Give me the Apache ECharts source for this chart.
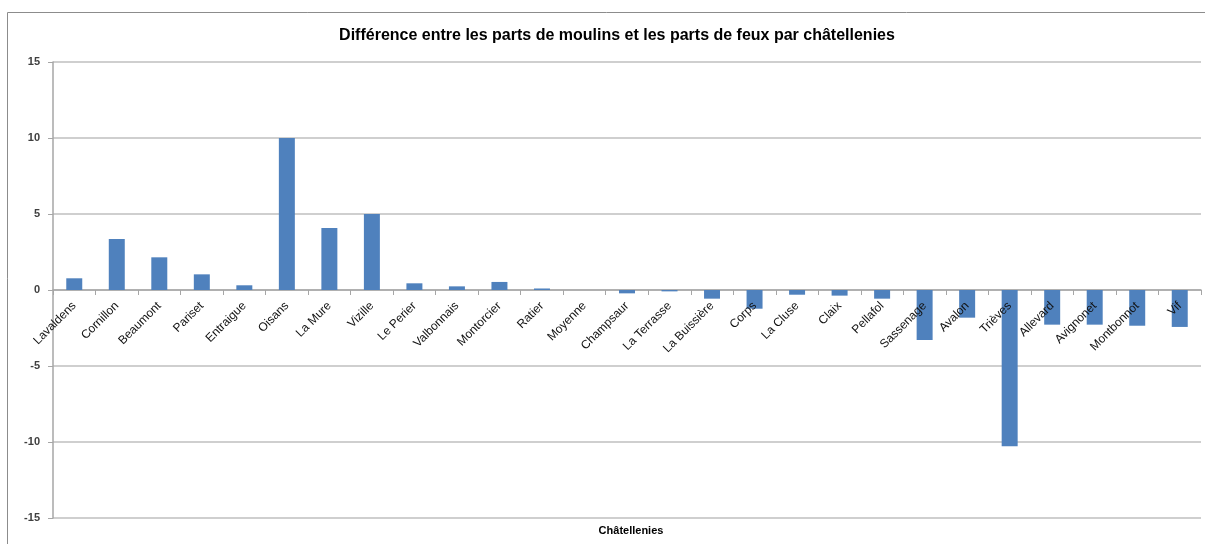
<!DOCTYPE html>
<html>
<head>
<meta charset="utf-8">
<script src="https://cdn.jsdelivr.net/npm/echarts@6/dist/echarts.min.js"></script>
<style>
    html, body { margin: 0; padding: 0; background: #fff; }
    #chart { width: 1205px; height: 544px; }
</style>
</head>
<body>
<div id="chart"></div>
<script>
    var chatellenies = ['Lavaldens', 'Cornillon', 'Beaumont', 'Pariset', 'Entraigue', 'Oisans', 'La Mure', 'Vizille',
        'Le Perier', 'Valbonnais', 'Montorcier', 'Ratier', 'Moyenne', 'Champsaur', 'La Terrasse', 'La Buissière',
        'Corps', 'La Cluse', 'Claix', 'Pellafol', 'Sassenage', 'Avalon', 'Trièves', 'Allevard', 'Avignonet',
        'Montbonnot', 'Vif'];
    var difference = [0.77, 3.36, 2.15, 1.03, 0.31, 10.0, 4.08, 5.0,
        0.44, 0.24, 0.53, 0.1, 0, -0.22, -0.09, -0.57,
        -1.23, -0.31, -0.37, -0.57, -3.29, -1.82, -10.28, -2.28, -2.28,
        -2.35, -2.43];
    var yTicks = [-15, -10, -5, 0, 5, 10, 15];

    var myChart = echarts.init(document.getElementById('chart'));
    var option = {
        animation: false,
        title: [{
            text: 'Différence entre les parts de moulins et les parts de feux par châtellenies',
            left: 612,
            textAlign: 'center',
            top: 23,
            textStyle: { fontFamily: 'Liberation Sans', fontSize: 16, fontWeight: 'bold', color: '#000' }
        }, {
            text: 'Châtellenies',
            left: 626,
            textAlign: 'center',
            top: 520,
            textStyle: { fontFamily: 'Liberation Sans', fontSize: 11, fontWeight: 'bold', color: '#000' }
        }],
        graphic: [{
            type: 'rect',
            shape: { x: 7.5, y: 12.5, width: 1210, height: 540 },
            style: { fill: 'none', stroke: '#8c8c8c', lineWidth: 1 },
            silent: true
        }],
        grid: { left: 53, right: 4, top: 62, bottom: 26, containLabel: false, outerBoundsMode: 'none' },
        xAxis: [{
            type: 'category',
            data: chatellenies,
            axisLine: { onZero: true, lineStyle: { color: '#a6a6a6', width: 1.5 } },
            axisTick: { show: true, interval: 0, length: 5, lineStyle: { color: '#a6a6a6' } },
            axisLabel: { show: false }
        }, {
            // label-only axis sitting on the zero line, drawn over the bars
            type: 'category',
            data: chatellenies,
            position: 'bottom',
            offset: -228,
            z: 10,
            axisLine: { show: false, onZero: false },
            axisTick: { show: false },
            axisLabel: {
                rotate: 45,
                interval: 0,
                margin: 14,
                fontFamily: 'Liberation Sans',
                fontSize: 12,
                color: '#111'
            }
        }],
        yAxis: {
            type: 'value',
            min: yTicks[0],
            max: yTicks[yTicks.length - 1],
            interval: 5,
            axisLine: { show: true, lineStyle: { color: '#a6a6a6', width: 1.5 } },
            axisTick: { show: true, length: 5, lineStyle: { color: '#a6a6a6' } },
            splitLine: { lineStyle: { color: '#bfbfbf', width: 1.5 } },
            axisLabel: {
                margin: 13,
                fontFamily: 'Liberation Sans',
                fontSize: 11,
                fontWeight: 'bold',
                color: '#404040'
            }
        },
        series: [{
            type: 'bar',
            data: difference,
            barWidth: '37.6%',
            itemStyle: { color: '#4f81bd' }
        }]
    };
    myChart.setOption(option);
</script>
</body>
</html>
